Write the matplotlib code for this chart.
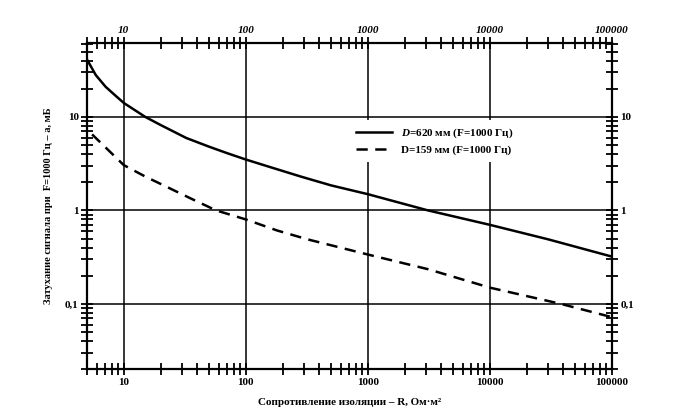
import numpy as np
import matplotlib
matplotlib.use('Agg')
import matplotlib.pyplot as plt
from matplotlib.ticker import FixedLocator, LogLocator, NullFormatter

plt.rcParams['font.family'] = ['Liberation Serif', 'DejaVu Serif']
plt.rcParams['font.weight'] = 'bold'
plt.rcParams['mathtext.fontset'] = 'custom'
plt.rcParams['mathtext.it'] = 'Liberation Serif:italic:bold'
plt.rcParams['mathtext.rm'] = 'Liberation Serif:bold'

# R, Ohm*m2 and attenuation values
r_620 = [5, 5.9, 7.1, 8.5, 10, 15, 20, 32.5, 50, 70, 100, 146, 282, 500, 1000, 3100, 10000, 30000, 100000]
a_620 = [41, 28, 21, 17, 14.1, 10, 8.2, 5.95, 4.8, 4.1, 3.5, 3.0, 2.3, 1.85, 1.49, 1.0, 0.70, 0.49, 0.32]
r_159 = [5.5, 6.1, 10, 15, 22, 35, 57, 100, 180, 320, 1000, 3100, 10000, 38000, 100000]
a_159 = [6.5, 5.7, 3.05, 2.3, 1.81, 1.35, 1.0, 0.80, 0.61, 0.49, 0.337, 0.235, 0.149, 0.10, 0.072]

x_major = [10, 100, 1000, 10000, 100000]
x_labels = ['10', '100', '1000', '10000', '100000']
y_major = [0.1, 1, 10]
y_labels = ['0,1', '1', '10']

fig = plt.figure(figsize=(6.8, 4.2), dpi=100)
ax = fig.add_axes([0.128, 0.121, 0.772, 0.777])

ax.plot(r_620, a_620, color='black', lw=1.8, label=r'$D$=620 мм (F=1000 Гц)')
ax.plot(r_159, a_159, color='black', lw=1.8, ls=(0, (4.5, 3)), label='D=159 мм (F=1000 Гц)')

ax.set_xscale('log')
ax.set_yscale('log')
ax.set_xlim(5, 100000)
ax.set_ylim(0.02, 62)

ax.xaxis.set_major_locator(FixedLocator(x_major))
ax.xaxis.set_minor_locator(LogLocator(base=10, subs=np.arange(2, 10)))
ax.yaxis.set_major_locator(FixedLocator(y_major))
ax.yaxis.set_minor_locator(LogLocator(base=10, subs=np.arange(2, 10)))
ax.set_xticklabels(x_labels)
ax.set_yticklabels(y_labels)
ax.xaxis.set_minor_formatter(NullFormatter())
ax.yaxis.set_minor_formatter(NullFormatter())

ax.tick_params(which='both', direction='inout', top=True, right=True,
               labeltop=True, labelright=True, width=1.3, labelsize=8)
ax.tick_params(which='major', length=8, pad=2)
ax.tick_params(which='minor', length=8)
for t in ax.xaxis.get_major_ticks():
    t.label2.set_fontstyle('italic')

ax.grid(True, which='major', color='black', lw=1.1)
for s in ax.spines.values():
    s.set_linewidth(1.6)

ax.set_xlabel('Сопротивление изоляции – R, Ом·м²', fontsize=8, fontweight='bold', labelpad=8)
ax.set_ylabel('Затухание сигнала при  F=1000 Гц – a, мБ', fontsize=7.5, fontweight='bold', labelpad=9)

leg = ax.legend(loc='upper left', bbox_to_anchor=(0.49, 0.78), frameon=True,
                framealpha=1, edgecolor='none', fontsize=8, handlelength=3.2,
                borderpad=0.6, labelspacing=0.45)
leg.get_frame().set_boxstyle('square', pad=0)

fig.savefig('out.png', dpi=100)
